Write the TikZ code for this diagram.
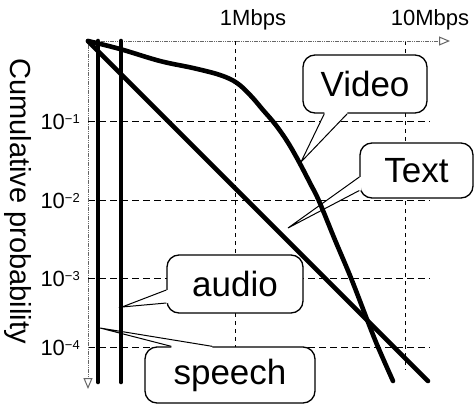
\documentclass[tikz,border=0pt]{standalone}
\usepackage{fontspec}
\setmainfont{Liberation Sans}
\usetikzlibrary{arrows.meta,calc}

% pointer of a speech-bubble label: base points #1,#2 on the box edge, tip #3, inward shift #4
\newcommand\wedgeptr[4]{%
  \fill[white] ($(#1)+(#4)$) -- (#1) -- (#3) -- (#2) -- ($(#2)+(#4)$) -- cycle;
  \draw[wedge] (#1) -- (#3) -- (#2);
}

\begin{document}
\begin{tikzpicture}[x=1pt,y=-1pt,
  curve/.style={line width=4.6pt, line cap=round, line join=round},
  gridh/.style={line width=0.9pt, dash pattern=on 7pt off 4pt},
  gridv/.style={line width=0.9pt, dash pattern=on 4pt off 4pt},
  axisline/.style={line width=1pt, black!60, dash pattern=on 1.2pt off 0.6pt,
    -{Triangle[open,length=11pt,width=9pt]}},
  bubble/.style={draw, fill=white, line width=1.3pt, rounded corners=12pt,
    font=\fontsize{35}{35}\selectfont, inner sep=0pt},
  wedge/.style={line width=1pt, line join=miter},
  tick/.style={font=\fontsize{22}{22}\selectfont, inner sep=0pt},
]
\useasboundingbox (0,0) rectangle (475,405);

% grid
\foreach \yy in {121,200,278,347} \draw[gridh] (88,\yy) -- (430,\yy);
\foreach \xx in {235,405} \draw[gridv] (\xx,41) -- (\xx,370);

% axes
\coordinate (o) at (88,41);
\coordinate (xend) at (450,41);
\coordinate (yend) at (88,389);
\draw[axisline] (o) -- (xend);
\draw[axisline] (o) -- (yend);

% axis labels
\node[tick] (m1) at (253,20) {1Mbps};
\node[tick] (m10) at (430,20) {10Mbps};
\foreach \yy/\ee [count=\i] in {121/1,200/2,278/3,347/4}
  \node[tick, anchor=east] (t\i) at (80,\yy+1) {10\raisebox{6pt}{\fontsize{13}{13}\selectfont −\ee}};
\node[rotate=-90, font=\fontsize{29}{29}\selectfont, inner sep=0pt] (ylab) at (18,201) {Cumulative probability};

% bubbles
\node[bubble, minimum width=124pt, minimum height=58pt] (vbox) at (365,84) {Video};
\node[bubble, minimum width=113pt, minimum height=55pt] (tbox) at (416.5,170.5) {Text};
\node[bubble, minimum width=136pt, minimum height=58pt] (abox) at (235,284) {audio};
\node[bubble, minimum width=170pt, minimum height=56pt] (sbox) at (230,375) {speech};

\coordinate (vtip) at (301,162);
\coordinate (ttip) at (288,228);
\coordinate (atip) at (122,307);
\coordinate (stip) at (100,328);

\coordinate (va) at ($(vbox.south west)+(22,0)$);
\coordinate (vb) at ($(vbox.south west)+(45,0)$);
\wedgeptr{va}{vb}{vtip}{0,-2}
\coordinate (ta) at ($(tbox.west)+(0,6.5)$);
\coordinate (tb) at ($(tbox.west)+(0,20)$);
\wedgeptr{ta}{tb}{ttip}{2,0}
\coordinate (aa) at ($(abox.west)+(0,6)$);
\coordinate (ab) at ($(abox.west)+(0,19)$);
\wedgeptr{aa}{ab}{atip}{2,0}
\coordinate (sa) at ($(sbox.north west)+(27,0)$);
\coordinate (sb) at ($(sbox.north west)+(68,0)$);
\wedgeptr{sa}{sb}{stip}{0,2}

% distribution curves
\coordinate (sp0) at (98,41);  \coordinate (sp1) at (98,382);
\coordinate (au0) at (121,41); \coordinate (au1) at (121,382);
\coordinate (tx1) at (428,381);
\draw[curve] (sp0) -- (sp1);
\draw[curve] (au0) -- (au1);
\draw[curve] (o) -- (tx1);
\draw[curve] plot[smooth, tension=0.6] coordinates {
  (88,41) (120,49) (160,61) (193,68) (220,75) (237,83) (251,96) (263,110)
  (275,124) (287,141) (298,160) (310,183) (319,201) (335,240) (351,278)
  (368,322) (378,347) (393,381)};
\end{tikzpicture}
\end{document}
